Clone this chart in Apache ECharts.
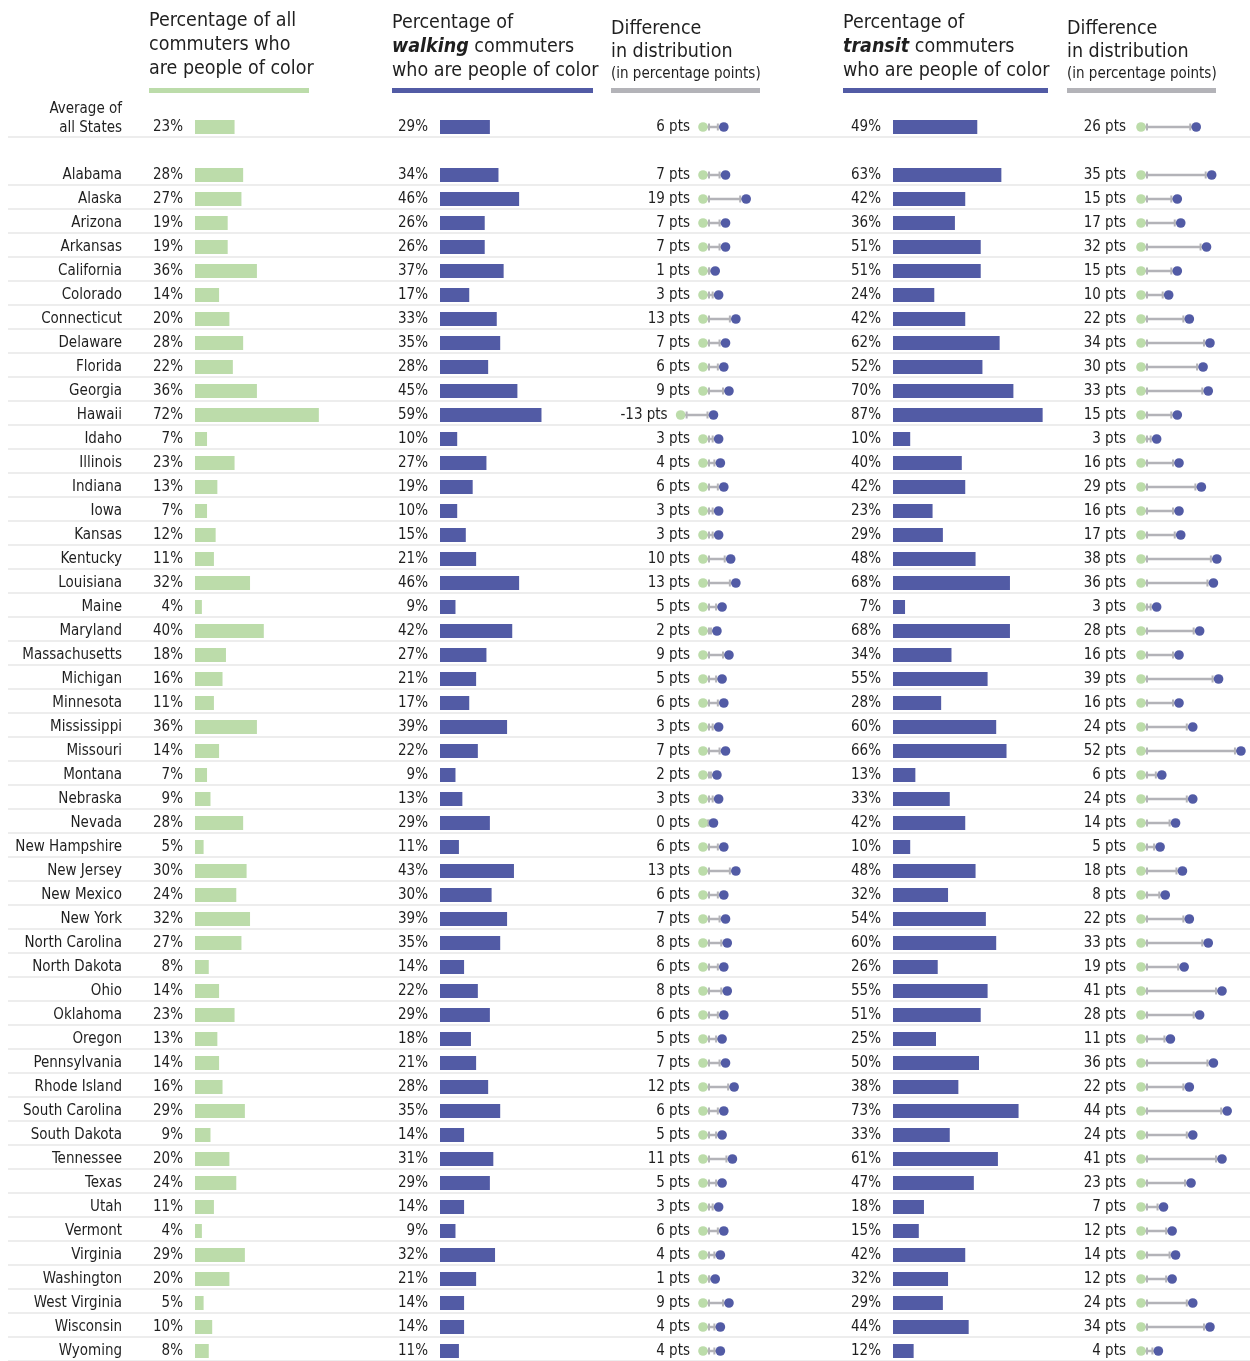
<!DOCTYPE html>
<html>
<head>
<meta charset="utf-8">
<script src="https://cdn.jsdelivr.net/npm/echarts@6/dist/echarts.min.js"></script>
<style>
  html, body { margin: 0; padding: 0; background: #fff; }
  #chart { width: 1250px; height: 1361px; }
</style>
</head>
<body>
<div id="chart"></div>
<script>
// Row names: the all-States average first, then each State
const rowNames = [
  'Average of all States',
  'Alabama', 'Alaska', 'Arizona', 'Arkansas', 'California', 'Colorado', 'Connecticut',
  'Delaware', 'Florida', 'Georgia', 'Hawaii', 'Idaho', 'Illinois', 'Indiana', 'Iowa',
  'Kansas', 'Kentucky', 'Louisiana', 'Maine', 'Maryland', 'Massachusetts', 'Michigan',
  'Minnesota', 'Mississippi', 'Missouri', 'Montana', 'Nebraska', 'Nevada', 'New Hampshire',
  'New Jersey', 'New Mexico', 'New York', 'North Carolina', 'North Dakota', 'Ohio',
  'Oklahoma', 'Oregon', 'Pennsylvania', 'Rhode Island', 'South Carolina', 'South Dakota',
  'Tennessee', 'Texas', 'Utah', 'Vermont', 'Virginia', 'Washington', 'West Virginia',
  'Wisconsin', 'Wyoming'
];

// Share of all commuters who are people of color (%)
const allCommuters = [
  23,
  28, 27, 19, 19, 36, 14, 20, 28, 22, 36, 72, 7, 23, 13, 7, 12, 11, 32, 4, 40,
  18, 16, 11, 36, 14, 7, 9, 28, 5, 30, 24, 32, 27, 8, 14, 23, 13, 14, 16, 29,
  9, 20, 24, 11, 4, 29, 20, 5, 10, 8
];

// Share of walking commuters who are people of color (%)
const walkingCommuters = [
  29,
  34, 46, 26, 26, 37, 17, 33, 35, 28, 45, 59, 10, 27, 19, 10, 15, 21, 46, 9, 42,
  27, 21, 17, 39, 22, 9, 13, 29, 11, 43, 30, 39, 35, 14, 22, 29, 18, 21, 28, 35,
  14, 31, 29, 14, 9, 32, 21, 14, 14, 11
];

// Walking vs. all commuters, in percentage points
const walkingDiff = [
  6,
  7, 19, 7, 7, 1, 3, 13, 7, 6, 9, -13, 3, 4, 6, 3, 3, 10, 13, 5, 2,
  9, 5, 6, 3, 7, 2, 3, 0, 6, 13, 6, 7, 8, 6, 8, 6, 5, 7, 12, 6,
  5, 11, 5, 3, 6, 4, 1, 9, 4, 4
];

// Share of transit commuters who are people of color (%)
const transitCommuters = [
  49,
  63, 42, 36, 51, 51, 24, 42, 62, 52, 70, 87, 10, 40, 42, 23, 29, 48, 68, 7, 68,
  34, 55, 28, 60, 66, 13, 33, 42, 10, 48, 32, 54, 60, 26, 55, 51, 25, 50, 38, 73,
  33, 61, 47, 18, 15, 42, 32, 29, 44, 12
];

// Transit vs. all commuters, in percentage points
const transitDiff = [
  26,
  35, 15, 17, 32, 15, 10, 22, 34, 30, 33, 15, 3, 16, 29, 16, 17, 38, 36, 3, 28,
  16, 39, 16, 24, 52, 6, 24, 14, 5, 18, 8, 22, 33, 19, 41, 28, 11, 36, 22, 44,
  24, 41, 23, 7, 12, 14, 12, 24, 34, 4
];

const FONT = "'DejaVu Sans Condensed', 'Liberation Sans Narrow', 'Arial Narrow', sans-serif";
const INK = '#1f1f1f';
const GREEN = '#bcdcaa';
const BLUE = '#525ba5';
const GREY = '#b3b3b8';
const LABEL_SIZE = 15;
const HEAD_SIZE = 19.5;

// One empty spacer row after the average
const categories = [rowNames[0], ''].concat(rowNames.slice(1));
const rowIndex = i => (i === 0 ? 0 : i + 1);

function barData(values) {
  const out = categories.map(() => '-');
  values.forEach((v, i) => { out[rowIndex(i)] = v; });
  return out;
}
function diffData(values) {
  return values.map((v, i) => [v, rowIndex(i)]);
}

// Dumbbell: green dot at the start, blue dot at the end, capped grey bar between
function dumbbell(labelGap) {
  return function (params, api) {
    const d = api.value(0);
    const row = api.value(1);
    const start = api.coord([Math.min(d, 0), row]);
    const end = api.coord([Math.max(d, 0), row]);
    const y = start[1];
    const gx = start[0];
    const bx = end[0] + 10.5;
    return {
      type: 'group',
      children: [
        { type: 'line', shape: { x1: gx, y1: y, x2: bx, y2: y },
          style: { stroke: GREY, lineWidth: 2.5 } },
        { type: 'line', shape: { x1: gx + 6, y1: y - 3.5, x2: gx + 6, y2: y + 3.5 },
          style: { stroke: GREY, lineWidth: 2 } },
        { type: 'line', shape: { x1: bx - 6, y1: y - 3.5, x2: bx - 6, y2: y + 3.5 },
          style: { stroke: GREY, lineWidth: 2 } },
        { type: 'circle', shape: { cx: gx, cy: y, r: 4.8 }, style: { fill: GREEN } },
        { type: 'circle', shape: { cx: bx, cy: y, r: 4.8 }, style: { fill: BLUE } },
        { type: 'text', x: gx - labelGap, y: y,
          style: { text: d + ' pts', font: LABEL_SIZE + 'px ' + FONT, fill: INK,
                   align: 'right', verticalAlign: 'middle' } }
      ]
    };
  };
}

// Thin rule under every populated row
function separator(params, api) {
  const c = api.coord([0, api.value(1)]);
  const y = c[1] + 10;
  return {
    type: 'line',
    shape: { x1: 8, y1: y, x2: 1250, y2: y },
    style: { stroke: '#ededed', lineWidth: 2 },
    z2: -10
  };
}

const SCALE = 1.72; // px per percentage point, shared by every column
const TOP = 115;
const ROW = 24;
const HEIGHT = categories.length * ROW;

function grid(left, min, max) {
  return { left: left, top: TOP, width: (max - min) * SCALE, height: HEIGHT,
           outerBoundsMode: 'none', containLabel: false };
}

const columns = [
  { left: 195, min: 0, max: 100 },
  { left: 440, min: 0, max: 100 },
  { left: 703 - 20 * SCALE, min: -20, max: 30 },
  { left: 893, min: 0, max: 100 },
  { left: 1141, min: 0, max: 60 }
];

const barLabel = {
  show: true, position: 'left', distance: 12,
  formatter: '{c}%', fontFamily: FONT, fontSize: LABEL_SIZE, color: INK
};

const headFont = HEAD_SIZE + 'px ' + FONT;
const emRich = { em: { fontFamily: FONT, fontSize: HEAD_SIZE, fontWeight: 'bold',
                       fontStyle: 'italic', fill: INK, lineHeight: 24 } };

const option = {
  animation: false,
  backgroundColor: '#ffffff',
  grid: columns.map(c => grid(c.left, c.min, c.max)),
  xAxis: columns.map((c, i) => ({
    type: 'value', gridIndex: i, min: c.min, max: c.max, show: false
  })),
  yAxis: columns.map((c, i) => ({
    type: 'category', gridIndex: i, data: categories, inverse: true,
    show: i === 0,
    axisLine: { show: false }, axisTick: { show: false }, splitLine: { show: false },
    axisLabel: {
      show: i === 0, margin: 73, fontFamily: FONT, fontSize: LABEL_SIZE, color: INK,
      interval: 0,
      formatter: v => (v === rowNames[0] ? '' : v)
    }
  })),
  series: [
    {
      type: 'custom', xAxisIndex: 0, yAxisIndex: 0, silent: true, clip: false, z: 0,
      encode: { x: 0, y: 1 },
      data: rowNames.map((_, i) => [0, rowIndex(i)]),
      renderItem: separator
    },
    {
      type: 'bar', xAxisIndex: 0, yAxisIndex: 0, barWidth: 14,
      itemStyle: { color: GREEN }, label: barLabel, data: barData(allCommuters)
    },
    {
      type: 'bar', xAxisIndex: 1, yAxisIndex: 1, barWidth: 14,
      itemStyle: { color: BLUE }, label: barLabel, data: barData(walkingCommuters)
    },
    {
      type: 'custom', xAxisIndex: 2, yAxisIndex: 2, clip: false, z: 3,
      encode: { x: 0, y: 1 },
      data: diffData(walkingDiff), renderItem: dumbbell(13)
    },
    {
      type: 'bar', xAxisIndex: 3, yAxisIndex: 3, barWidth: 14,
      itemStyle: { color: BLUE }, label: barLabel, data: barData(transitCommuters)
    },
    {
      type: 'custom', xAxisIndex: 4, yAxisIndex: 4, clip: false, z: 3,
      encode: { x: 0, y: 1 },
      data: diffData(transitDiff), renderItem: dumbbell(15)
    }
  ],
  graphic: [
    // column headings
    { type: 'text', x: 149, y: 9,
      style: { text: 'Percentage of all\ncommuters who\nare people of color',
               font: headFont, fill: INK, lineHeight: 24 } },
    { type: 'text', x: 392, y: 11,
      style: { text: 'Percentage of\n{em|walking} commuters\nwho are people of color',
               font: headFont, fill: INK, lineHeight: 24, rich: emRich } },
    { type: 'text', x: 611, y: 17,
      style: { text: 'Difference\nin distribution', font: headFont,
               fill: INK, lineHeight: 23 } },
    { type: 'text', x: 611, y: 74,
      style: { text: '(in percentage points)', font: '15px ' + FONT, fill: INK,
               verticalAlign: 'middle' } },
    { type: 'text', x: 843, y: 11,
      style: { text: 'Percentage of\n{em|transit} commuters\nwho are people of color',
               font: headFont, fill: INK, lineHeight: 24, rich: emRich } },
    { type: 'text', x: 1067, y: 17,
      style: { text: 'Difference\nin distribution', font: headFont,
               fill: INK, lineHeight: 23 } },
    { type: 'text', x: 1067, y: 74,
      style: { text: '(in percentage points)', font: '15px ' + FONT, fill: INK,
               verticalAlign: 'middle' } },
    // heading underlines
    { type: 'rect', shape: { x: 149, y: 88, width: 160, height: 5 }, style: { fill: GREEN } },
    { type: 'rect', shape: { x: 392, y: 88, width: 201, height: 5 }, style: { fill: BLUE } },
    { type: 'rect', shape: { x: 611, y: 88, width: 149, height: 5 }, style: { fill: GREY } },
    { type: 'rect', shape: { x: 843, y: 88, width: 205, height: 5 }, style: { fill: BLUE } },
    { type: 'rect', shape: { x: 1067, y: 88, width: 149, height: 5 }, style: { fill: GREY } },
    // two-line label of the average row
    { type: 'text', x: 122, y: 100,
      style: { text: 'Average of\nall States', font: LABEL_SIZE + 'px ' + FONT, fill: INK,
               align: 'right', lineHeight: 19 } }
  ]
};

const chart = echarts.init(document.getElementById('chart'), null, { renderer: 'canvas' });
chart.setOption(option);
</script>
</body>
</html>
